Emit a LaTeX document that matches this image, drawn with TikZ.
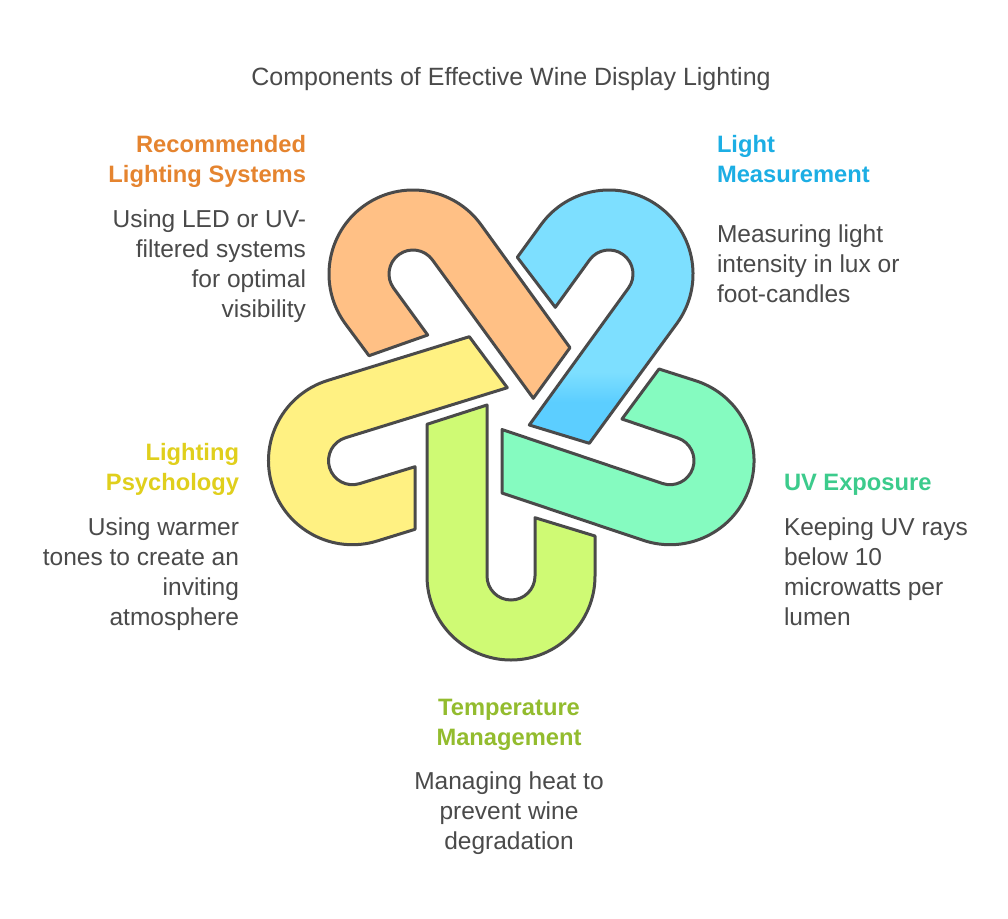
\documentclass[tikz,border=0pt]{standalone}
\usepackage{fontspec}
\setmainfont{Liberation Sans}
\definecolor{inkc}{HTML}{4A4A4A}
\definecolor{orangefill}{HTML}{FFC085}
\definecolor{bluefill}{HTML}{7DDFFF}
\definecolor{bluedark}{HTML}{5CCEFF}
\definecolor{mintfill}{HTML}{85FBC0}
\definecolor{yellowfill}{HTML}{FFF182}
\definecolor{greenfill}{HTML}{CFFA74}
\definecolor{orangehead}{HTML}{E5842F}
\definecolor{bluehead}{HTML}{1CAEE4}
\definecolor{minthead}{HTML}{3CCB8C}
\definecolor{yellowhead}{HTML}{E0CF1C}
\definecolor{greenhead}{HTML}{93BC2E}
\newcommand\firstline{\vrule width 0pt height 20pt depth 0pt\relax}
% #1 centre, #2 arm direction (canvas degrees), #3 #4 long-arm ends, #5 #6 short-arm ends
\newcommand\hookpath[6]{#3 -- #4 -- ([shift={#1}] #2+90:24pt) arc[start angle=#2+90,delta angle=180,radius=24pt] -- #5 -- #6 -- ([shift={#1}] #2-90:84pt) arc[start angle=#2-90,delta angle=-180,radius=84pt] -- cycle}
\newcommand\greenhook{\hookpath{(511,576)}{90}{(427,424.3)}{(487,405)}{(535,517.7)}{(595,536)}}
\newcommand\minthook{\hookpath{(670,460.7)}{161.3}{(502,493)}{(502,429.5)}{(622,419)}{(659,369)}}
\newcommand\bluehook{\hookpath{(609,274)}{234}{(589.3,443.3)}{(529.3,425)}{(555.3,307.3)}{(517.3,257.3)}}
\newcommand\orangehook{\hookpath{(413,274)}{-54}{(570,347.7)}{(533.3,398.3)}{(427.7,335)}{(369,355.7)}}
\newcommand\yellowhook{\hookpath{(352.5,460.7)}{17.2}{(469.3,336.7)}{(507.3,387.7)}{(415,466.7)}{(415,529.3)}}
\tikzset{
  hook/.style={draw=inkc,line width=3pt,line join=round},
  txt/.style={inner sep=0pt,outer sep=0pt,text=inkc,font=\fontsize{24.5}{30}\selectfont},
  head/.style={inner sep=0pt,outer sep=0pt,font=\fontsize{23.7}{30}\selectfont\bfseries},
}
\begin{document}
\begin{tikzpicture}[x=1pt,y=-1pt]
\useasboundingbox (0,0) rectangle (1008,918);
\fill[white] (0,0) rectangle (1008,918);
\path[hook,fill=greenfill] \greenhook;
\path[hook,fill=mintfill] \minthook;
\path[fill=bluefill] \bluehook;
\begin{scope}
\clip \bluehook;
\shade[top color=bluefill,bottom color=bluedark] (500,372) rectangle (660,402);
\fill[bluedark] (500,402) rectangle (660,450);
\end{scope}
\path[draw=inkc,line width=3pt,line join=round] \bluehook;
\path[hook,fill=orangefill] \orangehook;
\path[hook,fill=yellowfill] \yellowhook;

\node[txt,anchor=base,font=\fontsize{25}{30}\selectfont] (title) at (511,85) {Components of Effective Wine Display Lighting};

\node[head,text=orangehead,anchor=north east,align=right] (h1) at (306,132) {\firstline Recommended\\Lighting Systems};
\node[txt,anchor=north east,align=right] (t1) at (306,207.5) {\firstline Using LED or UV-\\filtered systems\\for optimal\\visibility};

\node[head,text=bluehead,anchor=north west,align=left] (h2) at (717,132) {\firstline Light\\Measurement};
\node[txt,anchor=north west,align=left] (t2) at (717,222.5) {\firstline Measuring light\\intensity in lux or\\foot-candles};

\node[head,text=minthead,anchor=north west,align=left] (h3) at (784,470) {\firstline UV Exposure};
\node[txt,anchor=north west,align=left] (t3) at (784,515.5) {\firstline Keeping UV rays\\below 10\\microwatts per\\lumen};

\node[head,text=yellowhead,anchor=north east,align=right] (h4) at (239,440) {\firstline Lighting\\Psychology};
\node[txt,anchor=north east,align=right] (t4) at (239,515.5) {\firstline Using warmer\\tones to create an\\inviting\\atmosphere};

\node[head,text=greenhead,anchor=north,align=center] (h5) at (509,695) {\firstline Temperature\\Management};
\node[txt,anchor=north,align=center] (t5) at (509,769.5) {\firstline Managing heat to\\prevent wine\\degradation};
\end{tikzpicture}
\end{document}
